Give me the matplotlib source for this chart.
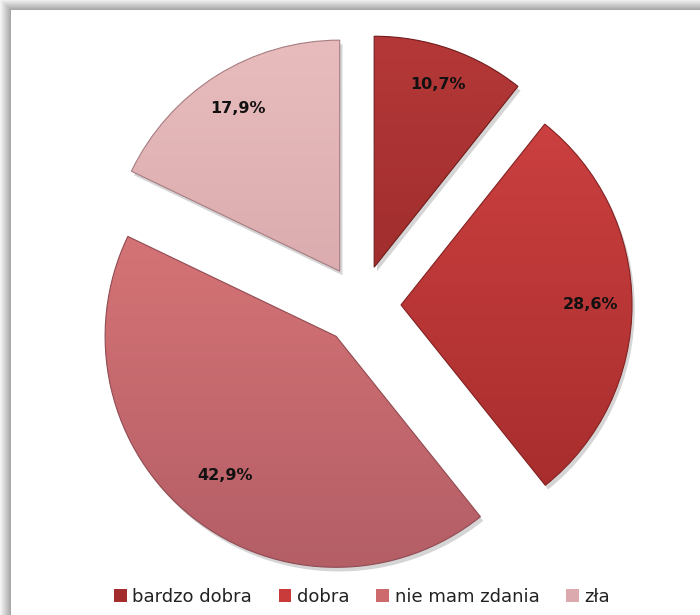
import numpy as np
import matplotlib
matplotlib.use('Agg')
import matplotlib.pyplot as plt
from matplotlib.colors import LinearSegmentedColormap
from matplotlib.patches import Patch, Wedge

# data
categories = ['bardzo dobra', 'dobra', 'nie mam zdania', 'zła']
shares = [10.7, 28.6, 42.9, 17.9]

# top / bottom shade for each slice
top_colors = ['#b53838', '#d04242', '#e27c7c', '#e8bcbc']
bottom_colors = ['#8c2323', '#a42b2b', '#b45e66', '#cf9ca2']
legend_colors = ['#a32d2d', '#c93b3b', '#cc6a6e', '#dcaaae']
label_dist = [0.84, 0.82, 0.77, 0.83]

W, H = 700, 615
R = 231.0           # pie radius in px
CX, CY = 361, 305   # pie centre in px (image coords)

fig = plt.figure(figsize=(W / 100, H / 100), dpi=100)

# frame with soft shadow on top/left
bg = fig.add_axes([0, 0, 1, 1])
yy, xx = np.mgrid[0:H, 0:W]
d = np.maximum(np.clip(11 - xx, 0, None), np.clip(10 - yy, 0, None)).astype(float)
shade = np.where(d > 0, 0.66 + 0.3 * (d - 1) / 10.0, 1.0)
bg.imshow(shade, cmap='gray', vmin=0, vmax=1, extent=(0, W, H, 0), aspect='auto',
          interpolation='bilinear')
bg.set_axis_off()

ax = fig.add_axes([0, 0, 1, 1])
ax.set_axis_off()

def pct(p):
    return '{:.1f}%'.format(p).replace('.', ',')

wedges, _, autotexts = ax.pie(
    shares, explode=[40 / R] * 4, startangle=90, counterclock=False,
    autopct=pct, pctdistance=0.81,
    wedgeprops=dict(facecolor='none', edgecolor='#7a2a2a', linewidth=0.8),
    textprops=dict(fontsize=11.5, fontweight='bold', color='#111111'))

for w, c1, c2 in zip(wedges, top_colors, bottom_colors):
    w.set_zorder(2)
    cx, cy = w.center
    # soft shadow
    ax.add_patch(Wedge((cx + 0.012, cy - 0.018), w.r, w.theta1, w.theta2,
                       facecolor='#888888', edgecolor='none', alpha=0.35, zorder=0.5))
    cmap = LinearSegmentedColormap.from_list('g', [c2, c1])
    grad = np.linspace(0, 1, 256).reshape(-1, 1)
    im = ax.imshow(grad, cmap=cmap, origin='lower', aspect='auto',
                   extent=(cx - w.r, cx + w.r, cy - w.r, cy + w.r), zorder=1)
    im.set_clip_path(w)
    w.set_edgecolor(tuple(0.8 * np.array(matplotlib.colors.to_rgb(c2))))

for w, t, dist in zip(wedges, autotexts, label_dist):
    th = np.deg2rad((w.theta1 + w.theta2) / 2)
    cx, cy = w.center
    t.set_position((cx + dist * np.cos(th), cy + dist * np.sin(th)))
    t.set_zorder(3)

ax.set_xlim(-CX / R, (W - CX) / R)
ax.set_ylim((CY - H) / R, CY / R)
ax.set_aspect('auto')

handles = [Patch(facecolor=c, edgecolor='none') for c in legend_colors]
fig.legend(handles, categories, loc='center', bbox_to_anchor=(362 / W, 1 - 597 / H),
           ncol=4, frameon=False, fontsize=13, handlelength=0.7, handleheight=0.7,
           handletextpad=0.3, columnspacing=1.5, labelcolor='#222222')

fig.savefig('out.png', dpi=100)
